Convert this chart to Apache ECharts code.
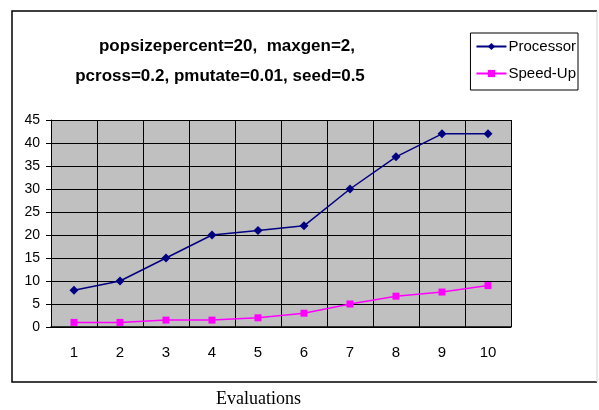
<!DOCTYPE html>
<html>
<head>
<meta charset="utf-8">
<script src="https://cdn.jsdelivr.net/npm/echarts@6/dist/echarts.min.js"></script>
<style>
  html, body { margin: 0; padding: 0; background: #fff; }
  #chart { width: 599px; height: 410px; }
</style>
</head>
<body>
<div id="chart"></div>
<script>
// data
const evaluations = ['1', '2', '3', '4', '5', '6', '7', '8', '9', '10'];
const processor = [8, 10, 15, 20, 21, 22, 30, 37, 42, 42];
const speedUp = [1, 1, 1.5, 1.5, 2, 3, 5, 6.7, 7.6, 9];
const titleLines = ['popsizepercent=20,  maxgen=2,', 'pcross=0.2, pmutate=0.01, seed=0.5'];

const chart = echarts.init(document.getElementById('chart'));

const titleStyle = {
  fontFamily: 'Liberation Sans, Arial',
  fontWeight: 'bold',
  fontSize: 17,
  color: '#000'
};

const option = {
  animation: false,
  backgroundColor: '#fff',
  title: [
    { text: titleLines[0], left: 227, top: 38, textAlign: 'center', padding: 0, textStyle: titleStyle },
    { text: titleLines[1], left: 220, top: 68, textAlign: 'center', padding: 0, textStyle: titleStyle }
  ],
  legend: {
    orient: 'vertical',
    right: 21,
    top: 33,
    padding: [5, 2, 8, 5],
    itemGap: 10,
    itemWidth: 30,
    itemHeight: 9,
    borderColor: '#000',
    borderWidth: 1,
    data: ['Processor', 'Speed-Up'],
    textStyle: { fontFamily: 'Liberation Sans, Arial', fontSize: 15, lineHeight: 17, color: '#000', padding: [0, 0, 0, -3] }
  },
  grid: { left: 51, top: 120, right: 88, bottom: 83 },
  xAxis: {
    type: 'category',
    data: evaluations,
    boundaryGap: true,
    axisLine: { lineStyle: { color: '#000', width: 1.5 } },
    axisTick: { show: false },
    axisLabel: { color: '#000', fontFamily: 'Liberation Sans, Arial', fontSize: 15, margin: 18 },
    splitLine: { show: true, interval: 0, lineStyle: { color: '#000', width: 1 } }
  },
  yAxis: {
    type: 'value',
    min: 0,
    max: 45,
    interval: 5,
    axisLine: { show: true, lineStyle: { color: '#000', width: 1 } },
    axisTick: { show: true, length: 5, lineStyle: { color: '#000' } },
    axisLabel: { color: '#000', fontFamily: 'Liberation Sans, Arial', fontSize: 14, margin: 11 },
    splitLine: { lineStyle: { color: '#000', width: 1 } },
    splitArea: { show: true, areaStyle: { color: ['#c0c0c0', '#c0c0c0'] } }
  },
  series: [
    {
      name: 'Processor',
      type: 'line',
      data: processor,
      symbol: 'diamond',
      symbolSize: 9,
      color: '#000080',
      lineStyle: { width: 1.5, color: '#000080' },
      itemStyle: { color: '#000080' }
    },
    {
      name: 'Speed-Up',
      type: 'line',
      data: speedUp,
      symbol: 'rect',
      symbolSize: 7,
      color: '#ff00ff',
      lineStyle: { width: 1.5, color: '#ff00ff' },
      itemStyle: { color: '#ff00ff' }
    }
  ],
  graphic: [
    {
      type: 'polyline',
      shape: { points: [[597, 11], [12, 11], [12, 382], [597, 382]] },
      style: { stroke: '#000', lineWidth: 1.5, fill: null }
    },
    {
      type: 'line',
      shape: { x1: 597, y1: 11, x2: 597, y2: 382 },
      style: { stroke: '#d0d0d0', lineWidth: 1 }
    },
    {
      type: 'text',
      left: 216,
      top: 390,
      style: { text: 'Evaluations', font: '18px "Liberation Serif", serif', fill: '#000' }
    }
  ]
};

chart.setOption(option);
</script>
</body>
</html>
